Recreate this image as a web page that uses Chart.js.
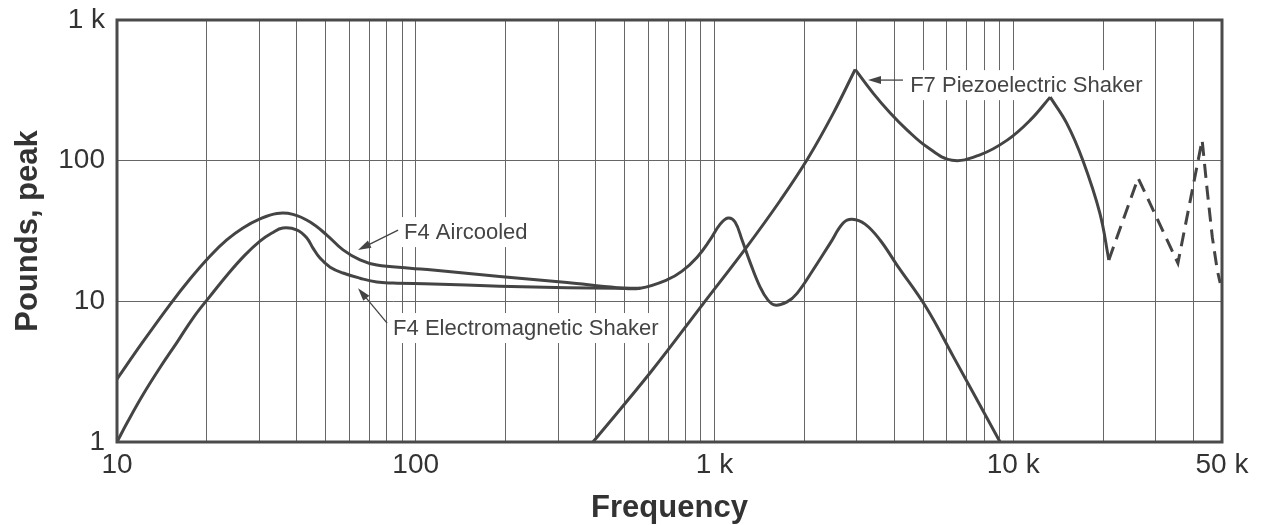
<!DOCTYPE html>
<html>
<head>
<meta charset="utf-8">
<title>Shaker force vs frequency</title>
<script src="https://cdn.jsdelivr.net/npm/chart.js@4"></script>
<style>
  html, body { margin: 0; padding: 0; background: #fff; }
  #wrap { width: 1262px; height: 525px; }
</style>
</head>
<body>
<div id="wrap"><canvas id="forceChart" width="1262" height="525"></canvas></div>
<script>
// F4 aircooled (upper curve until it joins the electromagnetic one near 560 Hz)
const aircooledHz  = [10, 12.2, 15, 17.55, 20.5, 23.3, 26.4, 30.1, 34.3, 38.8, 44.3, 50.4, 57.1, 65.1, 74.1, 95.7, 114, 191, 321, 472, 564];
const aircooledLbs = [2.8, 5.14, 9.41, 14.4, 21.0, 27.3, 33.2, 38.5, 42.1, 41.5, 36.6, 29.6, 23.2, 19.7, 18.1, 17.2, 16.7, 15.0, 13.6, 12.5, 12.4];

// F4 electromagnetic shaker
const electroHz  = [10, 10.89, 12.2, 13.9, 15.9, 17.97, 20.5, 23.5, 26.8, 30.1, 33.0, 35.9, 40.1, 43.2, 45.3, 47.8, 51.7, 57.1, 65.1, 74.1, 83.9,
                    114, 191, 321, 472, 564, 693, 779, 875, 966, 1045, 1111, 1172, 1237, 1315, 1422, 1511, 1595, 1750, 1890,
                    2138, 2438, 2697, 2891, 3192, 3583, 4083, 5105, 6292, 9036];
const electroLbs = [1, 1.41, 2.16, 3.36, 5.13, 7.61, 10.9, 15.6, 21.3, 26.8, 30.6, 33.2, 32.1, 28.2, 23.9, 20.3, 17.5, 15.9, 14.6, 13.7, 13.5,
                    13.3, 12.8, 12.5, 12.4, 12.4, 14.2, 16.4, 20.6, 27.3, 35.4, 39.1, 36.6, 27.3, 19.0, 12.6, 10.2, 9.4, 9.9, 11.4,
                    16.7, 25.8, 36.0, 38.3, 35.4, 27.3, 18.1, 9.11, 4.08, 1.0];

// F7 piezoelectric shaker, split at its two sharp resonance peaks
const piezoRiseHz  = [392, 614, 916, 1285, 1660, 2056, 2495, 2958];
const piezoRiseLbs = [1, 3.17, 9.6, 24.5, 52.1, 104, 216, 445];
const piezoMidHz   = [2958, 3396, 3875, 4417, 5153, 6237, 7740, 9550, 11400, 13300];
const piezoMidLbs  = [445, 302, 218, 165, 125, 100.7, 110, 140, 194, 283];
const piezoFallHz  = [13300, 15100, 17100, 19500, 20900];
const piezoFallLbs = [283, 185, 100.7, 42.4, 19.7];
// dashed extension above 20 kHz
const piezoExtHz   = [20900, 26200, 35600, 42900, 44600, 46400, 48200, 49300];
const piezoExtLbs  = [19.7, 75.2, 18.7, 140, 61.8, 28.6, 16.7, 13.5];

// axes
const gridHz = [10, 20, 30, 40, 50, 60, 70, 80, 90,
                100, 200, 300, 400, 500, 600, 700, 800, 900,
                1000, 2000, 3000, 4000, 5000, 6000, 7000, 8000, 9000,
                10000, 20000, 30000, 40000, 50000];
const xLabelValues = [10, 100, 1000, 10000, 50000];
const xLabelText   = ['10', '100', '1 k', '10 k', '50 k'];
const yLabelValues = [1, 10, 100, 1000];
const yLabelText   = ['1', '10', '100', '1 k'];

// callouts: text baseline-left anchor and arrow (tail -> tip), all in data units
const callouts = [
  { text: 'F4 Aircooled', x: 91.4, y: 27.7, tailX: 87.3, tailY: 32.1, tipX: 64.1, tipY: 23.2 },
  { text: 'F4 Electromagnetic Shaker', x: 84, y: 5.76, tailX: 80.2, tailY: 7.0, tipX: 64.1, tipY: 12.4 },
  { text: 'F7 Piezoelectric Shaker', x: 4520, y: 307, tailX: 4276, tailY: 374, tipX: 3266, tipY: 374 }
];

const INK = '#444';
const FONT = '"Liberation Sans", Arial, Helvetica, sans-serif';

function pts(xs, ys) {
  return xs.map((x, i) => ({ x: x, y: ys[i] }));
}

function curve(label, xs, ys, extra) {
  return Object.assign({
    label: label,
    data: pts(xs, ys),
    borderColor: INK,
    borderWidth: 3,
    pointRadius: 0,
    fill: false,
    tension: 0.4
  }, extra || {});
}

function labelFor(values, texts, v) {
  const i = values.indexOf(v);
  return i >= 0 ? texts[i] : '';
}

// white-backed callout text with arrows, and the heavy frame round the plot
const calloutPlugin = {
  id: 'callouts',
  beforeDatasetsDraw(chart) {
    const { ctx, scales: { x, y } } = chart;
    ctx.save();
    ctx.font = '22px ' + FONT;
    ctx.textBaseline = 'alphabetic';
    callouts.forEach(c => {
      const tx = x.getPixelForValue(c.x);
      const ty = y.getPixelForValue(c.y);
      const w = ctx.measureText(c.text).width;
      ctx.fillStyle = '#fff';
      ctx.fillRect(tx - 5, ty - 22, w + 10, 30);
      ctx.fillStyle = INK;
      ctx.fillText(c.text, tx, ty);

      const x0 = x.getPixelForValue(c.tailX), y0 = y.getPixelForValue(c.tailY);
      const x1 = x.getPixelForValue(c.tipX), y1 = y.getPixelForValue(c.tipY);
      const ang = Math.atan2(y1 - y0, x1 - x0);
      const head = 13, half = 4;
      ctx.strokeStyle = INK;
      ctx.lineWidth = 1.3;
      ctx.beginPath();
      ctx.moveTo(x0, y0);
      ctx.lineTo(x1 - Math.cos(ang) * head * 0.8, y1 - Math.sin(ang) * head * 0.8);
      ctx.stroke();
      ctx.beginPath();
      ctx.moveTo(x1, y1);
      ctx.lineTo(x1 - Math.cos(ang) * head - Math.sin(ang) * half, y1 - Math.sin(ang) * head + Math.cos(ang) * half);
      ctx.lineTo(x1 - Math.cos(ang) * head + Math.sin(ang) * half, y1 - Math.sin(ang) * head - Math.cos(ang) * half);
      ctx.closePath();
      ctx.fill();
    });
    ctx.restore();
  },
  afterDatasetsDraw(chart) {
    const { ctx, chartArea: a } = chart;
    ctx.save();
    ctx.strokeStyle = '#4a4a4a';
    ctx.lineWidth = 3;
    ctx.strokeRect(a.left, a.top, a.right - a.left, a.bottom - a.top);
    ctx.restore();
  }
};

const chart = new Chart(document.getElementById('forceChart').getContext('2d'), {
  type: 'line',
  data: {
    datasets: [
      curve('F4 Aircooled', aircooledHz, aircooledLbs),
      curve('F4 Electromagnetic Shaker', electroHz, electroLbs),
      curve('F7 Piezoelectric Shaker', piezoRiseHz, piezoRiseLbs),
      curve('F7 Piezoelectric Shaker (mid)', piezoMidHz, piezoMidLbs),
      curve('F7 Piezoelectric Shaker (fall)', piezoFallHz, piezoFallLbs),
      curve('F7 Piezoelectric Shaker (ext)', piezoExtHz, piezoExtLbs, { tension: 0, borderDash: [14, 8] })
    ]
  },
  options: {
    responsive: false,
    animation: false,
    devicePixelRatio: 1,
    layout: { padding: { top: 20, right: 40, left: 0, bottom: 0 } },
    plugins: {
      legend: { display: false },
      tooltip: { enabled: false }
    },
    scales: {
      x: {
        type: 'logarithmic',
        min: 10,
        max: 50000,
        afterBuildTicks: s => { s.ticks = gridHz.map(v => ({ value: v })); },
        afterFit: s => { s.height = 83; s.paddingLeft = 0; s.paddingRight = 0; },
        ticks: {
          autoSkip: false,
          maxRotation: 0,
          padding: 6,
          color: '#333',
          font: { size: 28, family: FONT },
          callback: v => labelFor(xLabelValues, xLabelText, v)
        },
        grid: { color: '#666', lineWidth: 1, drawTicks: false },
        border: { display: false },
        title: {
          display: true,
          text: 'Frequency',
          color: '#333',
          font: { size: 31, weight: 'bold', family: FONT },
          padding: { top: 0, bottom: -2 }
        }
      },
      y: {
        type: 'logarithmic',
        min: 1,
        max: 1000,
        afterBuildTicks: s => { s.ticks = yLabelValues.map(v => ({ value: v })); },
        afterFit: s => { s.width = 117; s.paddingTop = 0; s.paddingBottom = 0; },
        ticks: {
          autoSkip: false,
          padding: 12,
          color: '#333',
          font: { size: 28, family: FONT },
          callback: v => labelFor(yLabelValues, yLabelText, v)
        },
        grid: { color: '#666', lineWidth: 1, drawTicks: false },
        border: { display: false },
        title: {
          display: true,
          text: 'Pounds, peak',
          color: '#333',
          font: { size: 31, weight: 'bold', family: FONT },
          padding: { top: 10, bottom: 0 }
        }
      }
    }
  },
  plugins: [calloutPlugin]
});
</script>
</body>
</html>
